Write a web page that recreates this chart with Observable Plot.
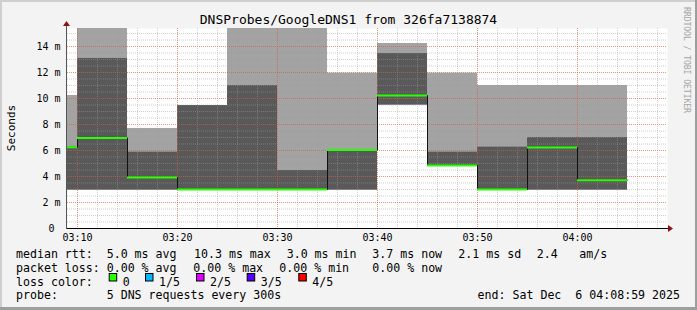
<!DOCTYPE html>
<html><head><meta charset="utf-8">
<script src="https://cdn.jsdelivr.net/npm/d3@7"></script>
<script src="https://cdn.jsdelivr.net/npm/@observablehq/plot@0.6"></script>
<style>
html,body{margin:0;padding:0;background:#f3f3f3;}
#chart{width:697px;height:310px;position:relative;overflow:hidden;}
svg{display:block;}
</style></head><body><div id="chart"></div>
<script>
// ---- data ----
const intervalStarts = ["03:05","03:10","03:15","03:20","03:25","03:30","03:35","03:40","03:45","03:50","03:55","04:00"];
const ping1   = [2.95, 2.95, 2.95, 2.95, 2.95, 2.95, 2.95, 9.49, 4.85, 2.95, 2.95, 2.95];
const ping2   = [2.95, 2.95, 2.95, 2.95, 2.95, 2.95, 2.95, 9.49, 4.85, 2.95, 2.95, 2.95];
const medians = [6.25, 6.97, 3.92, 3.00, 3.00, 3.00, 6.03, 10.23, 4.85, 3.00, 6.23, 3.72];
const ping4   = [6.25, 13.08, 5.87, 9.46, 11.0, 4.46, 6.05, 13.46, 5.87, 6.26, 7.00, 7.00];
const ping5   = [10.23, 16.0, 7.69, 9.46, 16.0, 16.0, 11.95, 14.23, 11.95, 11.0, 11.0, 11.0];
const xTickLabels = ["03:10","03:20","03:30","03:40","03:50","04:00"];
const yTickValues = [0, 2, 4, 6, 8, 10, 12, 14];
const title = "DNSProbes/GoogleDNS1 from 326fa7138874";
const yLabel = "Seconds";
const watermark = "RRDTOOL / TOBI OETIKER";
const rttStats = ["5.0 ms avg", "10.3 ms max", "3.0 ms min", "3.7 ms now", "2.1 ms sd", "2.4", "am/s"];
const lossStats = ["0.00 % avg", "0.00 % max", "0.00 % min", "0.00 % now"];
const lossLabels = ["0", "1/5", "2/5", "3/5", "4/5"];
const lossColors = ["#26ff00", "#00b8ff", "#dd00ff", "#5500ff", "#ff0000"];
const probeText = "5 DNS requests every 300s";
const endText = "end: Sat Dec  6 04:08:59 2025";

// ---- build table ----
const at = (hm) => { const [h, m] = hm.split(":").map(Number); return new Date(Date.UTC(2025, 11, 6, h, m)); };
const STEP = 300000;
const rows = intervalStarts.map((s, i) => ({
  t0: at(s), t1: new Date(at(s).getTime() + STEP),
  p1: ping1[i], p2: ping2[i], med: medians[i], p4: ping4[i], p5: ping5[i]
}));
const stepPts = rows.map(r => ({t: r.t0, v: r.med})).concat([{t: rows[rows.length-1].t1, v: rows[rows.length-1].med}]);

const xDomain = [at("03:09"), at("04:09")];
const yMax = 200 / 13;
const minorX = d3.utcMinute.every(2).range(at("03:10"), at("04:09"));
const majorX = xTickLabels.map(at);
const minorY = d3.range(0.5, yMax, 0.5);
const majorY = yTickValues.filter(v => v > 0);

const FONT = "DejaVu Sans Mono, monospace";
const gridMinor = {stroke: "#9b9b9b", strokeOpacity: 0.47, strokeDasharray: "1,1"};
const gridMajor = {stroke: "#ff3000", strokeOpacity: 0.38, strokeDasharray: "1,1"};

const plot = Plot.plot({
  width: 697, height: 310,
  marginLeft: 67, marginRight: 30, marginTop: 28, marginBottom: 82,
  style: {background: "#f3f3f3", fontFamily: FONT, color: "#000"},
  x: {type: "utc", domain: xDomain, clamp: true, axis: null},
  y: {domain: [0, yMax], clamp: true, axis: null},
  marks: [
    Plot.frame({fill: "#fff", stroke: null}),
    Plot.rect(rows, {x1: "t0", x2: "t1", y1: "p1", y2: "p5", fill: "#a3a3a3"}),
    Plot.rect(rows, {x1: "t0", x2: "t1", y1: "p2", y2: "p4", fill: "#595959"}),
    Plot.ruleX(minorX, gridMinor),
    Plot.ruleY(minorY, gridMinor),
    Plot.ruleX(majorX, gridMajor),
    Plot.ruleY(majorY, gridMajor),
    Plot.line(stepPts, {x: "t", y: "v", curve: "step-after", stroke: "#111", strokeWidth: 1}),
    Plot.ruleY(rows, {x1: "t0", x2: "t1", y: "med", stroke: lossColors[0], strokeWidth: 2}),
    Plot.axisX(majorX, {tickSize: 0, tickPadding: 5, tickFormat: d3.utcFormat("%H:%M"), fontSize: 10, fontFamily: FONT, fill: "#000", label: null}),
    Plot.axisY(yTickValues, {tickSize: 0, tickPadding: 7, tickFormat: d => d === 0 ? "0\u00a0" : d + " m", fontSize: 10, fontFamily: FONT, fill: "#000", label: null})
  ]
});
document.getElementById("chart").appendChild(plot);

// ---- decorations: frame, axis lines, arrows, texts ----
const svg = d3.select(plot);
const g = svg.append("g");
g.append("rect").attr("x", 0).attr("y", 0).attr("width", 697).attr("height", 2).attr("fill", "#cfcfcf");
g.append("rect").attr("x", 0).attr("y", 0).attr("width", 2).attr("height", 310).attr("fill", "#cfcfcf");
g.append("rect").attr("x", 695).attr("y", 0).attr("width", 2).attr("height", 310).attr("fill", "#9e9e9e");
g.append("rect").attr("x", 0).attr("y", 307).attr("width", 697).attr("height", 3).attr("fill", "#9e9e9e");
const x0 = 67, y0 = 228;
g.append("line").attr("x1", x0).attr("x2", 669).attr("y1", y0 + 0.5).attr("y2", y0 + 0.5).attr("stroke", "#000");
g.append("line").attr("x1", x0 - 0.5).attr("x2", x0 - 0.5).attr("y1", y0 + 1).attr("y2", 25).attr("stroke", "#555");
g.append("path").attr("d", `M668,225 L673,228.5 L668,232 Z`).attr("fill", "#8b1212");
g.append("path").attr("d", `M63,26 L66.5,21 L70,26 Z`).attr("fill", "#8b1212");

const LF = 11.6;
const txt = (x, y, s, opts = {}) => g.append("text").attr("x", x).attr("y", y)
  .attr("font-family", FONT).attr("font-size", opts.size || LF).attr("fill", opts.fill || "#000")
  .attr("text-anchor", opts.anchor || "start").attr("xml:space", "preserve").style("white-space", "pre").text(s);

txt(348.5, 24, title, {size: 13, anchor: "middle"});
g.append("text").attr("transform", "translate(15,128) rotate(-90)")
  .attr("font-family", FONT).attr("font-size", 11).attr("fill", "#000").attr("text-anchor", "middle").text(yLabel);
g.append("text").attr("transform", "translate(684,7) rotate(90)")
  .attr("font-family", FONT).attr("font-size", 8.2).attr("fill", "#a6a6a6").attr("text-anchor", "start")
  .attr("textLength", 106).attr("lengthAdjust", "spacing").text(watermark);

const rowY = [258.3, 272, 285.7, 299.4];
txt(16, rowY[0], "median rtt:");
[106.7, 194, 286.7, 372.3, 458.3, 536.7, 579.3].forEach((x, i) => txt(x, rowY[0], rttStats[i]));
txt(16, rowY[1], "packet loss:");
[106.7, 193.3, 279.3, 372.3].forEach((x, i) => txt(x, rowY[1], lossStats[i]));
txt(16, rowY[2], "loss color:");
[108.7, 145, 196, 246.7, 298.3].forEach((x, i) => {
  g.append("rect").attr("x", x + 0.5).attr("y", 273.5).attr("width", 7.5).attr("height", 7.5)
    .attr("fill", lossColors[i]).attr("stroke", "#000").attr("stroke-width", 1);
  txt(x + 14, rowY[2], lossLabels[i]);
});
txt(16, rowY[3], "probe:");
txt(106.7, rowY[3], probeText);
txt(680, rowY[3], endText, {anchor: "end"});
</script></body></html>
